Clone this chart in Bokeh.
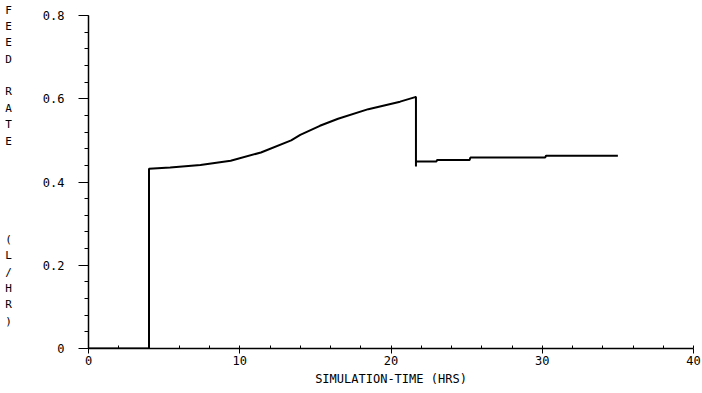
from bokeh.plotting import figure
from bokeh.models import Range1d, FixedTicker
from bokeh.embed import file_html
from bokeh.resources import INLINE

# Data
time_hrs = [0, 4.0, 4.0, 5.4, 7.4, 9.4, 11.4, 13.4, 14.0, 15.3, 16.5, 18.5, 20.6, 21.6,
            21.65, 21.65, 21.65, 23.0, 23.05, 25.2, 25.25, 30.2, 30.25, 35.0]
feed_rate = [0, 0, 0.432, 0.435, 0.441, 0.451, 0.471, 0.500, 0.513, 0.535, 0.552, 0.575,
             0.593, 0.604, 0.604, 0.437, 0.449, 0.449, 0.453, 0.453, 0.459, 0.459, 0.463, 0.463]

x_ticks = [0, 10, 20, 30, 40]
y_ticks = [0, 0.2, 0.4, 0.6, 0.8]
x_title = "SIMULATION-TIME (HRS)"
# stacked letters of the y title (" " = blank row)
y_title_rows = ["F", "E", "E", "D", " ", "R", "A", "T", "E", " ", " ", " ", " ", " ",
                "(", "L", "/", "H", "R", ")", " ", " "]

FONT = "DejaVu Sans Mono"
LEFT, TOP, BOTTOM, RIGHT = 88, 15, 45, 9
FW, FH = 605, 333
W, H = LEFT + FW + RIGHT, TOP + FH + BOTTOM

p = figure(width=W, height=H, output_backend="svg", toolbar_location=None,
           x_range=Range1d(0, 40), y_range=Range1d(0, 0.8),
           min_border_left=LEFT, min_border_right=RIGHT, min_border_top=TOP,
           min_border_bottom=BOTTOM, frame_width=FW, frame_height=FH)
p.outline_line_color = None
p.xgrid.visible = False
p.ygrid.visible = False
p.background_fill_color = "white"
p.border_fill_color = "white"

p.line(time_hrs, feed_rate, line_color="black", line_width=2)

# x axis
xa = p.xaxis[0]
xa.ticker = FixedTicker(ticks=x_ticks, minor_ticks=list(range(0, 41, 2)))
xa.axis_line_color = "black"
xa.axis_line_width = 1.5
xa.major_tick_out = 5
xa.major_tick_in = 0
xa.minor_tick_out = 0
xa.minor_tick_in = 3
xa.major_tick_line_color = "black"
xa.minor_tick_line_color = "black"
xa.major_label_text_font = FONT
xa.major_label_text_font_size = "12px"
xa.major_label_text_color = "black"
xa.major_label_standoff = 2
xa.axis_label = x_title
xa.axis_label_text_font = FONT
xa.axis_label_text_font_size = "12px"
xa.axis_label_text_font_style = "normal"
xa.axis_label_text_color = "black"
xa.axis_label_standoff = 4

# y axis
ya = p.yaxis[0]
ya.ticker = FixedTicker(ticks=y_ticks, minor_ticks=[round(i * 0.04, 2) for i in range(21)])
ya.major_label_overrides = {0: "0", 0.2: "0.2", 0.4: "0.4", 0.6: "0.6", 0.8: "0.8"}
ya.axis_line_color = "black"
ya.axis_line_width = 1.5
ya.major_tick_out = 10
ya.major_tick_in = 0
ya.minor_tick_out = 4
ya.minor_tick_in = 0
ya.major_tick_line_color = "black"
ya.minor_tick_line_color = "black"
ya.major_label_text_font = FONT
ya.major_label_text_font_size = "12px"
ya.major_label_text_color = "black"
ya.major_label_standoff = 14
ya.axis_label = "\n".join(y_title_rows)
ya.axis_label_orientation = "horizontal"
ya.axis_label_text_font = FONT
ya.axis_label_text_font_size = "11px"
ya.axis_label_text_font_style = "normal"
ya.axis_label_text_color = "black"
ya.axis_label_text_line_height = 1.26
ya.axis_label_standoff = 28

open("out.html", "w").write(file_html(p, INLINE))
